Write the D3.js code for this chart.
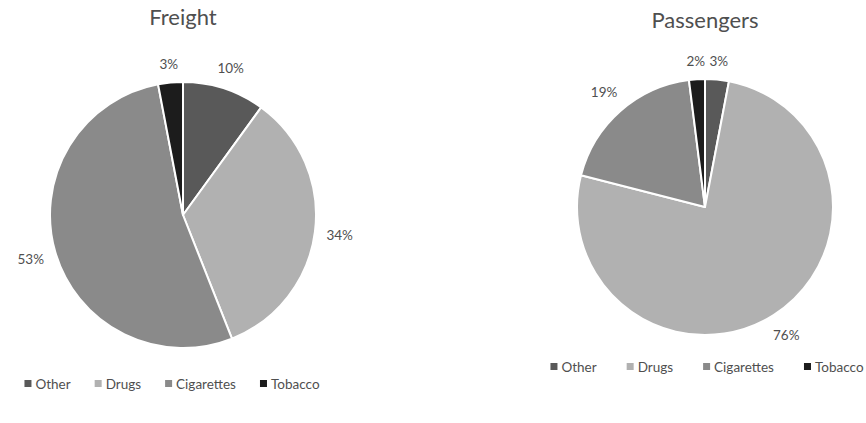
<!DOCTYPE html>
<html>
<head>
<meta charset="utf-8">
<script src="https://cdn.jsdelivr.net/npm/d3@7"></script>
<style>
  body { margin: 0; background: #fff; }
  svg { display: block; }
  text { font-family: Lato, "Open Sans", sans-serif; fill: #4f4f4f; }
</style>
</head>
<body>
<svg id="chart"></svg>
<script>
const categories = ['Other', 'Drugs', 'Cigarettes', 'Tobacco'];
const freightValues = [10, 34, 53, 3];
const passengerValues = [3, 76, 19, 2];
const colorRange = ['#595959', '#b1b1b1', '#8a8a8a', '#1c1c1c'];

const W = 866, H = 423;

const svg = d3.select('#chart').
  attr('width', W).
  attr('height', H);

svg.append('rect').attr('width', W).attr('height', H).attr('fill', '#fff');

const color = d3.scaleOrdinal().domain(categories).range(colorRange);

const charts = [
  { title: 'Freight', values: freightValues, cx: 183, cy: 215, r: 133, titleY: 25, legendY: 384, legendX: 172, gap: 24 },
  { title: 'Passengers', values: passengerValues, cx: 705, cy: 207, r: 128, titleY: 28, legendY: 367, legendX: 707, gap: 30 },
];

const pie = d3.pie().sort(null).value(d => d.value);

charts.forEach(c => {
  const data = categories.map((name, i) => ({ name: name, value: c.values[i] }));
  const arcs = pie(data);
  const arc = d3.arc().innerRadius(0).outerRadius(c.r);

  const g = svg.append('g').attr('transform', `translate(${c.cx},${c.cy})`);

  g.selectAll('path').
    data(arcs).
    enter().
    append('path').
    attr('d', arc).
    attr('fill', d => color(d.data.name)).
    attr('stroke', '#fff').
    attr('stroke-width', 2).
    attr('stroke-linejoin', 'round');

  // labels outside the slices, pushed out by the size of their box
  g.selectAll('text.lbl').
    data(arcs).
    enter().
    append('text').
    attr('class', 'lbl').
    attr('text-anchor', 'middle').
    attr('dy', '0.35em').
    style('font-size', '13.5px').
    text(d => d.data.value + '%').
    each(function (d) {
      const a = (d.startAngle + d.endAngle) / 2;
      const w = this.getComputedTextLength();
      const h = 13;
      const rr = c.r + 11 + Math.abs(Math.sin(a)) * w / 2 + Math.abs(Math.cos(a)) * h / 2;
      d3.select(this).
        attr('x', Math.sin(a) * rr).
        attr('y', -Math.cos(a) * rr);
    });

  svg.append('text').
    attr('x', c.cx).
    attr('y', c.titleY).
    attr('text-anchor', 'middle').
    style('font-size', '22px').
    text(c.title);

  // legend
  const lg = svg.append('g');
  let x = 0;
  categories.forEach((name, i) => {
    const item = lg.append('g').attr('transform', `translate(${x},0)`);
    item.append('rect').
      attr('x', 0).
      attr('y', -4).
      attr('width', 7).
      attr('height', 7).
      attr('fill', color(name));
    const t = item.append('text').
      attr('x', 11).
      attr('dy', '0.35em').
      style('font-size', '13.5px').
      text(name);
    x += 11 + t.node().getComputedTextLength() + c.gap;
  });
  const total = x - c.gap;
  lg.attr('transform', `translate(${c.legendX - total / 2},${c.legendY})`);
});
</script>
</body>
</html>
